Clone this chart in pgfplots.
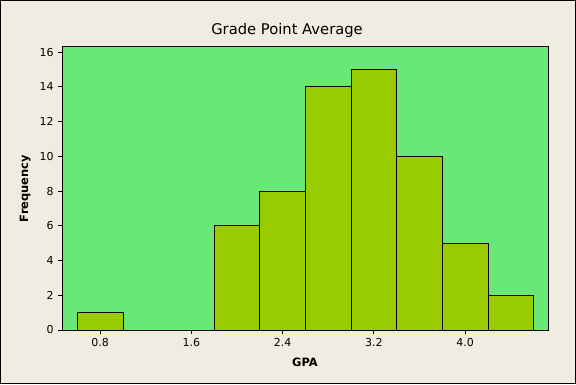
\documentclass[border=0pt]{standalone}
\usepackage{pgfplots}
\pgfplotsset{compat=1.18}
\usepackage{fontspec}
\setmainfont{DejaVu Sans}
\definecolor{bgc}{HTML}{F0ECE2}
\definecolor{plotbg}{HTML}{69E878}
\definecolor{barc}{HTML}{99CC00}
\begin{document}
\begin{tikzpicture}[x=1bp,y=1bp]
\useasboundingbox (0,0) rectangle (576,384);
\fill[bgc] (0,0) rectangle (576,384);
\draw[black,line width=1bp] (0.5,0.5) rectangle (575.5,383.5);
\begin{axis}[
  at={(62bp,54bp)}, anchor=south west,
  scale only axis, width=486bp, height=283bp,
  xmin=0.466, xmax=4.727, ymin=0, ymax=16.29,
  axis background/.style={fill=plotbg},
  axis line style={black, line width=1bp},
  xtick={0.8,1.6,2.4,3.2,4.0},
  xticklabels={0.8,1.6,2.4,3.2,4.0},
  ytick={0,2,4,6,8,10,12,14,16},
  xtick pos=left, ytick pos=left,
  tick align=outside, major tick length=4bp,
  tick style={black, line width=0.8bp},
  /pgf/number format/assume math mode=true,
  ticklabel style={font=\fontsize{11}{12}\selectfont},
  xticklabel style={yshift=-1bp},
  yticklabel style={xshift=-1bp},
  xlabel={GPA}, ylabel={Frequency},
  label style={font=\fontsize{11.5}{13}\selectfont\bfseries},
  xlabel style={at={(axis description cs:0.5,-0.113)}, anchor=center},
  ylabel style={at={(axis description cs:-0.076,0.5)}, anchor=center},
  title={Grade Point Average},
  title style={font=\fontsize{14.8}{17}\selectfont, at={(axis description cs:0.463,1.039)}, anchor=center},
]
\addplot[ybar, bar width=0.4, bar shift=0pt, fill=barc, draw=black, line width=0.8bp]
coordinates {(0.8,1) (2.0,6) (2.4,8) (2.8,14) (3.2,15) (3.6,10) (4.0,5) (4.4,2)};
\end{axis}
\end{tikzpicture}
\end{document}
